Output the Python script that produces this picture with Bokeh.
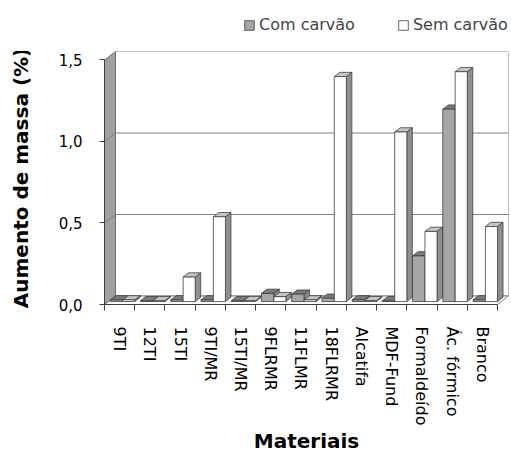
import numpy as np
from bokeh.plotting import figure
from bokeh.layouts import column
from bokeh.models import FixedTicker, Range1d, Legend, LegendItem, ColumnDataSource
from bokeh.embed import file_html
from bokeh.resources import INLINE

# ---- data ----
categorias = ["9TI", "12TI", "15TI", "9TI/MR", "15TI/MR", "9FLRMR", "11FLMR",
              "18FLRMR", "Alcatifa", "MDF-Fund", "Formaldeído", "Ác. fórmico", "Branco"]
com_carvao = [0.01, 0.005, 0.01, 0.01, 0.005, 0.05, 0.045, 0.02, 0.01, 0.005, 0.28, 1.18, 0.01]
sem_carvao = [0.01, 0.005, 0.15, 0.52, 0.005, 0.03, 0.01, 1.38, 0.005, 1.04, 0.43, 1.41, 0.46]
y_ticks = [0.0, 0.5, 1.0, 1.5]
y_labels = ["0,0", "0,5", "1,0", "1,5"]
series_names = ["Com carvão", "Sem carvão"]

FONT = "DejaVu Sans"
N = len(categorias)
YMAX = y_ticks[-1]
DX, DY = 0.364, 0.052          # 3-D depth offset (category units, value units)
ZA, ZB = 0.35, 0.85            # bar depth range
SLOTS = [(0.063, 0.473), (0.473, 0.873)]
fills = {"front": ["#a6a6a6", "#ffffff"], "top": ["#7a7a7a", "#c4c4c4"], "side": ["#8a8a8a", "#8f8f8f"]}
EDGE = "#404040"

# ---- legend strip (its frame is aligned with the chart frame by the column layout) ----
lg = figure(width=511, height=51, output_backend="svg", toolbar_location=None,
            x_range=Range1d(0, 404), y_range=Range1d(0, 51),
            x_axis_location=None, y_axis_location=None,
            min_border_left=0, min_border_right=0, min_border_top=0, min_border_bottom=0)
lg.outline_line_color = None
lg.xgrid.visible = False
lg.ygrid.visible = False
legend_renderers = []
for s in range(2):
    # key swatch only: single zero-size entry lying outside the visible range
    r = lg.quad(left=[-50], right=[-50], bottom=[-50], top=[-50], fill_color=fills["front"][s],
                line_color=EDGE, line_width=0.8)
    legend_renderers.append(r)
legend = Legend(items=[LegendItem(label=series_names[k], renderers=[legend_renderers[k]]) for k in range(2)],
                orientation="horizontal", location=(139, 17), margin=0, padding=0,
                spacing=42, glyph_width=12, glyph_height=12, label_standoff=4,
                label_text_font=FONT, label_text_font_size="16px",
                border_line_color=None, background_fill_alpha=0)
lg.add_layout(legend, "center")

# ---- main chart ----
p = figure(width=511, height=405, output_backend="svg", toolbar_location=None,
           x_range=Range1d(0, N + DX), y_range=Range1d(0, YMAX + DY),
           min_border_left=104, min_border_right=3, min_border_top=0, min_border_bottom=151)
p.outline_line_color = None
p.xgrid.visible = False
p.ygrid.visible = False

def proj(x, y, z):
    return x + z * DX, y + z * DY

def poly(pts):
    xs, ys = zip(*[proj(*pt) for pt in pts])
    return list(xs), list(ys)

# back wall, floor, side wall
bx, by = poly([(0, 0, 1), (N, 0, 1), (N, YMAX, 1), (0, YMAX, 1)])
p.patch(bx, by, fill_color="white", line_color="#808080", line_width=1)
fx, fy = poly([(0, 0, 0), (N, 0, 0), (N, 0, 1), (0, 0, 1)])
p.patch(fx, fy, fill_color="white", line_color="#808080", line_width=1)
sx, sy = poly([(0, 0, 0), (0, 0, 1), (0, YMAX, 1), (0, YMAX, 0)])
p.patch(sx, sy, fill_color="#a0a0a0", line_color="#6e6e6e", line_width=1)

# gridlines on side wall and back wall
gxs, gys = [], []
for t in y_ticks[1:-1]:
    x1, y1 = poly([(0, t, 0), (0, t, 1), (N, t, 1)])
    gxs.append(x1); gys.append(y1)
p.multi_line(gxs, gys, line_color="#808080", line_width=1)

for s, vals in enumerate([com_carvao, sem_carvao]):
    a, b = SLOTS[s]
    tops_x, tops_y, sides_x, sides_y = [], [], [], []
    left, right, bottom, top = [], [], [], []
    for i, v in enumerate(vals):
        x0, x1 = i + a, i + b
        tx, ty = poly([(x0, v, ZA), (x1, v, ZA), (x1, v, ZB), (x0, v, ZB)])
        tops_x.append(tx); tops_y.append(ty)
        qx, qy = poly([(x1, 0, ZA), (x1, 0, ZB), (x1, v, ZB), (x1, v, ZA)])
        sides_x.append(qx); sides_y.append(qy)
        l, bt = proj(x0, 0, ZA)
        r, tp = proj(x1, v, ZA)
        left.append(l); right.append(r); bottom.append(bt); top.append(tp)
    p.patches(sides_x, sides_y, fill_color=fills["side"][s], line_color=EDGE, line_width=0.8)
    p.patches(tops_x, tops_y, fill_color=fills["top"][s], line_color=EDGE, line_width=0.8)
    src = ColumnDataSource(dict(left=left, right=right, bottom=bottom, top=top))
    p.quad(left="left", right="right", bottom="bottom", top="top", source=src,
           fill_color=fills["front"][s], line_color=EDGE, line_width=0.8)

# axes
yax = p.yaxis[0]
yax.ticker = FixedTicker(ticks=y_ticks)
yax.major_label_overrides = {t: l for t, l in zip(y_ticks, y_labels)}
yax.bounds = (0, YMAX)
yax.major_tick_out = 5
yax.major_tick_in = 0
yax.minor_tick_out = 0
yax.minor_tick_in = 0
yax.axis_line_color = EDGE
yax.major_tick_line_color = EDGE
yax.major_label_standoff = 17
yax.major_label_text_font = FONT
yax.major_label_text_font_size = "15px"
yax.major_label_text_color = "black"
yax.axis_label = "Aumento de massa (%)"
yax.axis_label_text_font = FONT
yax.axis_label_text_font_style = "bold"
yax.axis_label_text_font_size = "20px"
yax.axis_label_text_color = "black"
yax.axis_label_standoff = 23

xax = p.xaxis[0]
centers = [i + 0.5 for i in range(N)]
xax.ticker = FixedTicker(ticks=centers, minor_ticks=list(range(N + 1)))
xax.major_label_overrides = {c: n for c, n in zip(centers, categorias)}
xax.bounds = (0, N)
xax.major_tick_out = 0
xax.major_tick_in = 0
xax.minor_tick_out = 6
xax.minor_tick_in = 0
xax.minor_tick_line_color = EDGE
xax.axis_line_color = EDGE
xax.major_label_orientation = "vertical"
xax.major_label_standoff = 16
xax.major_label_text_font = FONT
xax.major_label_text_font_size = "16px"
xax.major_label_text_color = "black"
xax.axis_label = "Materiais"
xax.axis_label_text_font = FONT
xax.axis_label_text_font_style = "bold"
xax.axis_label_text_font_size = "20px"
xax.axis_label_text_color = "black"
xax.axis_label_standoff = 1

layout = column(lg, p, spacing=0)
open("out.html", "w").write(file_html(layout, INLINE))
